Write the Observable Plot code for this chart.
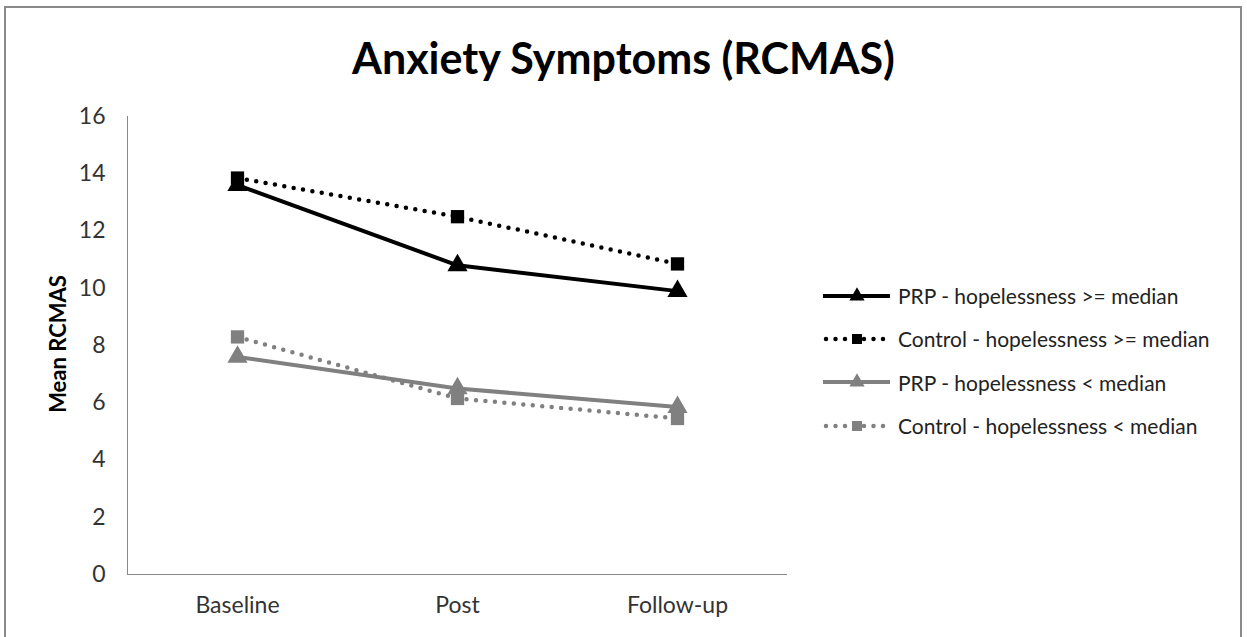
<!DOCTYPE html>
<html><head><meta charset="utf-8">
<script src="https://cdn.jsdelivr.net/npm/d3@7"></script>
<script src="https://cdn.jsdelivr.net/npm/@observablehq/plot@0.6"></script>
<style>
html,body{margin:0;padding:0;background:#fff;}
#wrap{position:relative;width:1247px;height:637px;overflow:hidden;font-family:Lato,"Open Sans",sans-serif;}
#frame{position:absolute;left:4px;top:6px;width:1238px;height:700px;border:2px solid #8a8a8a;box-sizing:border-box;}
#title{position:absolute;left:0;width:1247px;top:32px;text-align:center;font-weight:bold;font-size:43px;color:#000;line-height:1.2;}
#ylabel{position:absolute;left:57px;top:344px;transform:translate(-50%,-50%) rotate(-90deg);font-weight:bold;font-size:22px;white-space:nowrap;color:#000;}
#chart{position:absolute;left:0;top:0;}
#legend{position:absolute;left:823px;top:274px;}
.item{display:flex;align-items:center;height:43.3px;font-size:21px;color:#222;}
.item svg{margin-right:7px;}
</style>
</head><body>
<div id="wrap">
  <div id="frame"></div>
  <div id="chart"></div>
  <div id="title">Anxiety Symptoms (RCMAS)</div>
  <div id="ylabel">Mean RCMAS</div>
  <div id="legend"></div>
</div>
<script>
const categories = ["Baseline", "Post", "Follow-up"];
const seriesNames = [
  "PRP - hopelessness >= median",
  "Control - hopelessness >= median",
  "PRP - hopelessness < median",
  "Control - hopelessness < median"
];
const prpHigh = [13.6, 10.8, 9.9];
const controlHigh = [13.85, 12.5, 10.85];
const prpLow = [7.6, 6.5, 5.85];
const controlLow = [8.3, 6.15, 5.45];
const seriesValues = [prpHigh, controlHigh, prpLow, controlLow];
const yTicks = [0, 2, 4, 6, 8, 10, 12, 14, 16];
const xTicks = [0, 1, 2];

const styles = [
  {color: "#000000", dash: null, symbol: "triangle"},
  {color: "#000000", dash: "0,9.5", symbol: "square"},
  {color: "#808080", dash: null, symbol: "triangle"},
  {color: "#808080", dash: "0,9.5", symbol: "square"}
];

const rows = [];
seriesNames.forEach((s, i) => categories.forEach((c, j) => rows.push({series: s, idx: j, cat: c, value: seriesValues[i][j]})));

const marks = [
  Plot.ruleY([0], {stroke: "#888", strokeWidth: 1}),
  Plot.ruleX([-0.5], {stroke: "#888", strokeWidth: 1}),
  Plot.axisX(xTicks, {tickSize: 0, tickPadding: 22, tickFormat: i => categories[i], label: null, fontSize: 23, fill: "#333"}),
  Plot.axisY(yTicks, {tickSize: 0, tickPadding: 22, label: null, fontSize: 23, fill: "#333"})
];
seriesNames.forEach((s, i) => {
  const st = styles[i];
  const d = rows.filter(r => r.series === s);
  marks.push(Plot.line(d, {
    x: "idx", y: "value", stroke: st.color, strokeWidth: st.dash ? 4.5 : 4,
    strokeDasharray: st.dash || undefined, strokeLinecap: st.dash ? "round" : "butt"
  }));
});
seriesNames.forEach((s, i) => {
  const st = styles[i];
  const d = rows.filter(r => r.series === s);
  marks.push(Plot.dot(d, {x: "idx", y: "value", symbol: () => st.symbol, fill: st.color, stroke: "none", r: 7.5}));
});

const plot = Plot.plot({
  width: 1247, height: 637,
  marginLeft: 127, marginRight: 460, marginTop: 116, marginBottom: 63,
  style: {fontFamily: "Lato, sans-serif", fontSize: "23px", color: "#333", background: "transparent"},
  x: {type: "linear", domain: [-0.5, 2.5]},
  y: {domain: [0, 16]},
  symbol: {type: "identity"},
  marks
});
document.getElementById("chart").appendChild(plot);

// legend
const legend = d3.select("#legend");
seriesNames.forEach((s, i) => {
  const st = styles[i];
  const item = legend.append("div").attr("class", "item");
  const svg = item.append("svg").attr("width", 68).attr("height", 20);
  svg.append("line").attr("x1", st.dash ? 3 : 0).attr("x2", st.dash ? 66 : 67).attr("y1", 10).attr("y2", 10)
    .attr("stroke", st.color).attr("stroke-width", st.dash ? 4.5 : 4)
    .attr("stroke-dasharray", st.dash || null).attr("stroke-linecap", st.dash ? "round" : "butt");
  const sym = st.symbol === "triangle" ? d3.symbolTriangle : d3.symbolSquare;
  svg.append("path").attr("d", d3.symbol(sym, 100)())
    .attr("transform", "translate(34,10)").attr("fill", st.color);
  item.append("span").text(s);
});
</script>
</body></html>
